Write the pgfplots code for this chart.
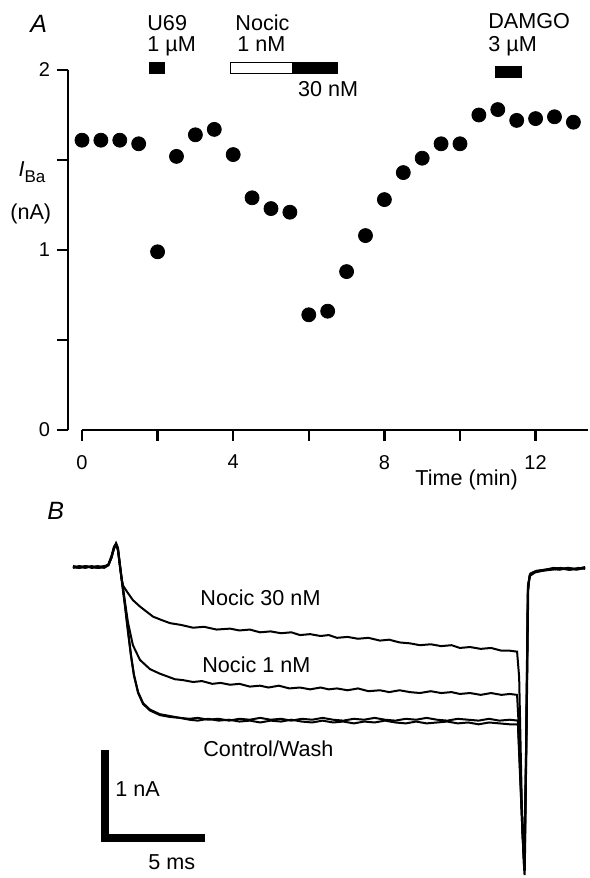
\documentclass[border=0pt]{standalone}
\usepackage{pgfplots}
\pgfplotsset{compat=1.18}
\usepackage{fontspec}
\setmainfont{Liberation Sans}

\newcommand{\lab}{\fontsize{10.8}{12}\selectfont}
\newcommand{\tkf}{\fontsize{10}{11}\selectfont}

\begin{document}
\begin{tikzpicture}[x=0.5pt,y=0.5pt]
\useasboundingbox (0,0) rectangle (589,878);

% ---------- panel A: time course ----------
\begin{axis}[
    at={(34pt,224pt)}, anchor=south west,
    x=18.9pt, y=90pt,
    xmin=-0.37, xmax=13.38, ymin=0, ymax=2,
    axis x line*=bottom, axis y line*=left,
    x axis line style={shorten <=7pt},
    axis line style={line width=1.2pt},
    every tick/.style={black, line width=1.2pt},
    tick align=outside, major tick length=5.5pt,
    xtick={0,2,...,12}, xticklabels={0,,4,,8,,12},
    ytick={0,0.5,...,2}, yticklabels={0,,1,,2},
    tick label style={font=\tkf},
    xticklabel style={yshift=-3.5pt},
    /pgf/number format/assume math mode=true,
    clip=false,
]
\addplot[only marks, mark=*, mark size=3.5pt, black] coordinates {
 (0,1.61) (0.5,1.61) (1,1.61) (1.5,1.59) (2,0.99) (2.5,1.52) (3,1.64)
 (3.5,1.67) (4,1.53) (4.5,1.29) (5,1.23) (5.5,1.21) (6,0.64) (6.5,0.66)
 (7,0.88) (7.5,1.08) (8,1.28) (8.5,1.43) (9,1.51) (9.5,1.59) (10,1.59)
 (10.5,1.75) (11,1.78) (11.5,1.72) (12,1.73) (12.5,1.74) (13,1.71)
};

% drug application bars
\fill[black] (axis cs:1.77,1.975) rectangle (axis cs:2.20,2.045);
\draw[black, line width=0.5pt, fill=white] (axis cs:3.94,1.98) rectangle (axis cs:5.58,2.04);
\fill[black] (axis cs:5.58,1.975) rectangle (axis cs:6.77,2.045);
\fill[black] (axis cs:10.93,1.955) rectangle (axis cs:11.64,2.02);

\begin{scope}[every node/.style={anchor=base west, inner sep=0pt, font=\lab}]
\node at (axis cs:1.72,2.222) {U69};
\node at (axis cs:1.72,2.10) {1 µM};
\node at (axis cs:4.05,2.222) {Nocic};
\node at (axis cs:4.10,2.10) {1 nM};
\node at (axis cs:5.71,1.85) {30 nM};
\node at (axis cs:10.74,2.228) {DAMGO};
\node at (axis cs:10.74,2.10) {3 µM};
\node at (axis cs:8.81,-0.306) {Time (min)};
\node at (axis cs:-1.69,1.406) {\textit{I}\raisebox{-0.45ex}{\fontsize{8.5}{9}\selectfont Ba}};
\node at (axis cs:-1.905,1.172) {(nA)};
\node[font=\fontsize{12.5}{14}\selectfont\itshape] at (axis cs:-1.376,2.206) {A};
\end{scope}
\end{axis}

% ---------- panel B: current traces ----------
\begin{axis}[
    at={(36.5pt,-0.9pt)}, anchor=south west,
    x=10.4pt, y=46pt,
    xmin=0, xmax=24.7, ymin=-3.4, ymax=0.3,
    hide axis, clip=false,
]
% control
\addplot[black, line width=1pt] coordinates {
 (0,0) (0.3,-0.01) (0.6,0.01) (0.9,-0.01) (1.2,0.0) (1.5,0.01) (1.7,0.02)
 (1.85,0.1) (1.97,0.21) (2.07,0.26) (2.16,0.21) (2.26,0.02)
 (2.36,-0.16) (2.50,-0.41) (2.64,-0.68) (2.79,-0.96) (2.93,-1.17)
 (3.13,-1.36) (3.37,-1.48) (3.70,-1.55) (4.18,-1.60) (4.66,-1.62) (5.14,-1.64)
 (5.6,-1.65) (6.0,-1.64) (6.5,-1.66) (7.0,-1.65) (7.5,-1.67) (8.0,-1.65)
 (8.5,-1.66) (9.0,-1.64) (9.5,-1.66) (10,-1.65) (10.5,-1.67) (11,-1.65)
 (11.5,-1.66) (12,-1.64) (12.5,-1.66) (13,-1.67) (13.5,-1.65) (14,-1.66)
 (14.5,-1.64) (15,-1.66) (15.5,-1.67) (16,-1.65) (16.5,-1.66) (17,-1.64)
 (17.5,-1.66) (18,-1.67) (18.5,-1.65) (19,-1.66) (19.5,-1.67) (20,-1.65)
 (20.5,-1.67) (21,-1.66) (21.39,-1.67)
 (21.49,-2.2) (21.61,-2.9) (21.71,-3.35) (21.80,-1.8) (21.875,-0.2)
 (21.97,-0.08) (22.2,-0.05) (22.6,-0.04) (23.0,-0.02) (23.4,-0.03)
 (23.8,-0.01) (24.2,-0.02) (24.62,-0.01)
};
% wash
\addplot[black, line width=1pt] coordinates {
 (0,0.01) (0.3,0.0) (0.6,-0.01) (0.9,0.01) (1.2,-0.01) (1.5,0.0) (1.7,0.03)
 (1.85,0.12) (1.97,0.22) (2.07,0.25) (2.16,0.19) (2.26,0.0)
 (2.36,-0.18) (2.50,-0.43) (2.64,-0.70) (2.79,-0.97) (2.93,-1.18)
 (3.13,-1.37) (3.37,-1.49) (3.70,-1.56) (4.18,-1.61) (4.66,-1.63) (5.14,-1.64)
 (5.6,-1.66) (6.0,-1.67) (6.5,-1.65) (7.0,-1.67) (7.5,-1.66) (8.0,-1.68)
 (8.5,-1.67) (9.0,-1.69) (9.5,-1.67) (10,-1.68) (10.5,-1.66) (11,-1.68)
 (11.5,-1.69) (12,-1.67) (12.5,-1.69) (13,-1.68) (13.5,-1.70) (14,-1.68)
 (14.5,-1.69) (15,-1.67) (15.5,-1.69) (16,-1.70) (16.5,-1.68) (17,-1.70)
 (17.5,-1.69) (18,-1.68) (18.5,-1.70) (19,-1.69) (19.5,-1.71) (20,-1.69)
 (20.5,-1.70) (21,-1.71) (21.39,-1.71)
 (21.50,-2.3) (21.62,-2.95) (21.72,-3.3) (21.81,-1.7) (21.89,-0.18)
 (22.0,-0.07) (22.3,-0.04) (22.7,-0.03) (23.1,-0.01) (23.5,-0.02)
 (23.9,-0.03) (24.3,-0.01) (24.62,-0.02)
};
% nocic 1 nM
\addplot[black, line width=1pt] coordinates {
 (0,-0.01) (0.3,0.01) (0.6,0.0) (0.9,0.0) (1.2,0.01) (1.5,-0.01) (1.7,0.02)
 (1.85,0.11) (1.97,0.2) (2.07,0.24) (2.16,0.18) (2.26,0.0)
 (2.35,-0.14) (2.45,-0.30) (2.64,-0.60) (2.88,-0.85) (3.22,-1.01)
 (3.70,-1.11) (4.18,-1.16) (4.90,-1.22) (5.3,-1.23) (5.77,-1.25) (6.2,-1.24)
 (6.7,-1.27) (7.1,-1.26) (7.55,-1.28) (8.0,-1.27) (8.5,-1.30) (8.99,-1.29)
 (9.4,-1.31) (9.9,-1.29) (10.4,-1.32) (10.91,-1.31) (11.4,-1.33) (11.9,-1.31)
 (12.3,-1.33) (12.69,-1.32) (13.2,-1.34) (13.7,-1.32) (14.2,-1.35) (14.76,-1.34)
 (15.2,-1.36) (15.7,-1.34) (16.2,-1.36) (16.68,-1.37) (17.2,-1.35) (17.7,-1.37)
 (18.2,-1.36) (18.6,-1.38) (19.09,-1.37) (19.6,-1.39) (20.1,-1.37)
 (20.6,-1.39) (21.0,-1.38) (21.35,-1.39)
 (21.47,-1.9) (21.60,-2.8) (21.70,-3.3) (21.79,-1.9) (21.87,-0.25)
 (21.96,-0.09) (22.25,-0.05) (22.65,-0.03) (23.05,-0.02) (23.45,-0.01)
 (23.85,-0.03) (24.25,-0.02) (24.62,0.0)
};
% nocic 30 nM
\addplot[black, line width=1pt] coordinates {
 (0,0.0) (0.3,-0.01) (0.6,0.01) (0.9,0.0) (1.2,-0.01) (1.5,0.0) (1.7,0.02)
 (1.85,0.1) (1.97,0.2) (2.07,0.25) (2.16,0.2) (2.26,0.02)
 (2.33,-0.12) (2.40,-0.20) (2.60,-0.27) (2.88,-0.36) (3.22,-0.43)
 (3.85,-0.54) (4.3,-0.58) (4.66,-0.61) (5.2,-0.63) (5.77,-0.66) (6.3,-0.65)
 (6.9,-0.68) (7.55,-0.67) (8.0,-0.69) (8.5,-0.68) (8.99,-0.71) (9.5,-0.70)
 (10.0,-0.72) (10.5,-0.71) (10.91,-0.74) (11.4,-0.73) (11.9,-0.75) (12.3,-0.74)
 (12.69,-0.77) (13.2,-0.76) (13.7,-0.78) (14.2,-0.77) (14.76,-0.80)
 (15.2,-0.79) (15.7,-0.82) (16.2,-0.83) (16.68,-0.85) (17.2,-0.84)
 (17.7,-0.86) (18.2,-0.85) (18.6,-0.88) (19.09,-0.87) (19.6,-0.89)
 (20.1,-0.88) (20.6,-0.91) (21.0,-0.91) (21.35,-0.92)
 (21.45,-1.2) (21.58,-2.6) (21.69,-3.3) (21.78,-2.0) (21.86,-0.3)
 (21.95,-0.1) (22.2,-0.06) (22.6,-0.04) (23.0,-0.03) (23.4,-0.02)
 (23.8,-0.01) (24.2,-0.03) (24.62,-0.01)
};
% scale bars: 1 nA, 5 ms
\addplot[black, line width=4pt, line join=miter, line cap=butt] coordinates {
 (1.54,-1.99) (1.54,-2.95) (6.35,-2.95)
};

\begin{scope}[every node/.style={anchor=base west, inner sep=0pt, font=\lab}]
\node at (axis cs:6.11,-0.424) {Nocic 30 nM};
\node at (axis cs:6.20,-1.152) {Nocic 1 nM};
\node at (axis cs:6.25,-2.065) {Control/Wash};
\node at (axis cs:2.02,-2.50) {1 nA};
\node at (axis cs:3.61,-3.29) {5 ms};
\node[font=\fontsize{12.5}{14}\selectfont\itshape] at (axis cs:-1.25,0.511) {B};
\end{scope}
\end{axis}
\end{tikzpicture}
\end{document}
